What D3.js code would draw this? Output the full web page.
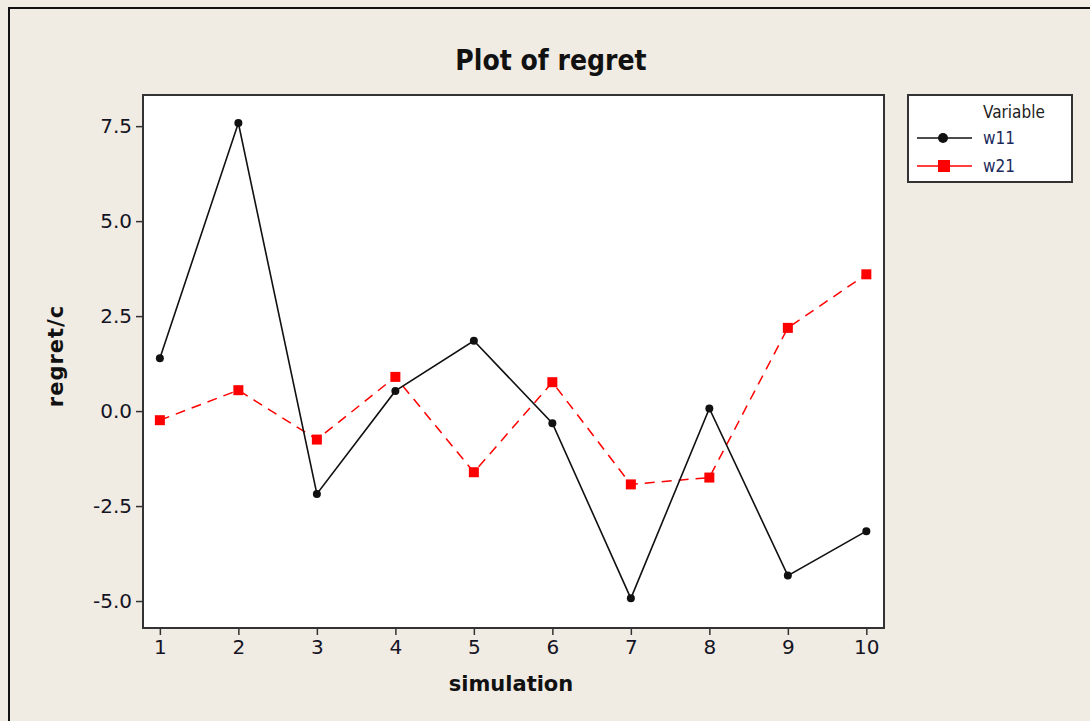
<!DOCTYPE html>
<html>
  <head>
    <meta charset="utf-8" />
    <title>Plot of regret</title>
    <script src="https://d3js.org/d3.v7.min.js"></script>
    <style>
      body { margin: 0; background: #f0ebe3; }
      text { font-family: "DejaVu Sans", sans-serif; }
    </style>
  </head>
  <body>
    <script>
      // data
      const simulations = [1, 2, 3, 4, 5, 6, 7, 8, 9, 10];
      const w11 = [1.39, 7.58, -2.18, 0.53, 1.85, -0.32, -4.93, 0.07, -4.33, -3.16];
      const w21 = [-0.24, 0.55, -0.75, 0.9, -1.61, 0.76, -1.93, -1.75, 2.19, 3.6];
      const yTicks = [-5.0, -2.5, 0.0, 2.5, 5.0, 7.5];
      const seriesNames = ["w11", "w21"];

      const W = 1090, H = 721;
      const plot = { left: 143, top: 95, right: 884, bottom: 628 };

      const svg = d3.select("body").append("svg")
        .attr("width", W).attr("height", H);

      svg.append("rect").attr("width", W).attr("height", H).attr("fill", "#f0ebe3");
      // outer frame (only top and left visible)
      svg.append("rect")
        .attr("x", 9).attr("y", 8).attr("width", W + 20).attr("height", H + 20)
        .attr("fill", "none").attr("stroke", "#111").attr("stroke-width", 2);

      const x = d3.scaleLinear().domain([0.785, 10.225]).range([plot.left, plot.right]);
      const y = d3.scaleLinear().domain([-5.71, 8.32]).range([plot.bottom, plot.top]);

      svg.append("rect")
        .attr("x", plot.left).attr("y", plot.top)
        .attr("width", plot.right - plot.left).attr("height", plot.bottom - plot.top)
        .attr("fill", "#fff").attr("stroke", "#333").attr("stroke-width", 2);

      // axes (hyphen minus like the original, not the unicode minus)
      const fmtY = d => d3.format(".1f")(d).replace("\u2212", "-");
      const xAxis = svg.append("g")
        .attr("transform", `translate(0,${plot.bottom + 1})`)
        .call(d3.axisBottom(x).tickValues(simulations).tickSize(6).tickPadding(5).tickFormat(d3.format("d")));
      const yAxis = svg.append("g")
        .attr("transform", `translate(${plot.left - 1},0)`)
        .call(d3.axisLeft(y).tickValues(yTicks).tickSize(6).tickPadding(4).tickFormat(fmtY));
      [xAxis, yAxis].forEach(g => {
        g.select(".domain").remove();
        g.selectAll(".tick line").attr("stroke", "#333").attr("stroke-width", 1.5);
        g.selectAll(".tick text")
          .attr("fill", "#141424")
          .style("font-size", "20px")
          .style("font-family", "'DejaVu Sans', sans-serif");
      });

      // lines
      const line = d3.line().x((d, i) => x(simulations[i])).y(d => y(d));

      svg.append("path").datum(w21)
        .attr("d", line).attr("fill", "none")
        .attr("stroke", "#ff0000").attr("stroke-width", 1.5)
        .attr("stroke-dasharray", "10,7");
      svg.selectAll(".sq").data(w21).join("rect")
        .attr("x", (d, i) => x(simulations[i]) - 5)
        .attr("y", d => y(d) - 5)
        .attr("width", 10).attr("height", 10)
        .attr("fill", "#ff0000");

      svg.append("path").datum(w11)
        .attr("d", line).attr("fill", "none")
        .attr("stroke", "#111").attr("stroke-width", 1.6);
      svg.selectAll(".dot").data(w11).join("circle")
        .attr("cx", (d, i) => x(simulations[i]))
        .attr("cy", d => y(d))
        .attr("r", 4).attr("fill", "#111");

      // title and axis labels
      svg.append("text")
        .attr("x", 551).attr("y", 70)
        .attr("text-anchor", "middle")
        .style("font-family", "'DejaVu Sans Condensed', 'DejaVu Sans', sans-serif")
        .style("font-weight", "bold").style("font-size", "28px")
        .attr("fill", "#111")
        .text("Plot of regret");

      svg.append("text")
        .attr("x", 511).attr("y", 691)
        .attr("text-anchor", "middle")
        .style("font-weight", "bold").style("font-size", "21px")
        .attr("fill", "#111")
        .text("simulation");

      svg.append("text")
        .attr("transform", `translate(63,356) rotate(-90)`)
        .attr("text-anchor", "middle")
        .style("font-weight", "bold").style("font-size", "21px")
        .style("letter-spacing", "1px")
        .attr("fill", "#111")
        .text("regret/c");

      // legend
      const legend = svg.append("g");
      legend.append("rect")
        .attr("x", 908).attr("y", 95).attr("width", 164).attr("height", 87)
        .attr("fill", "#fff").attr("stroke", "#333").attr("stroke-width", 2);
      legend.append("text")
        .attr("x", 983).attr("y", 118)
        .style("font-size", "17px").attr("fill", "#222")
        .style("font-family", "'DejaVu Sans Condensed', 'DejaVu Sans', sans-serif")
        .text("Variable");

      const rows = legend.selectAll(".row").data(seriesNames).join("g")
        .attr("transform", (d, i) => `translate(0,${138 + i * 28})`);
      rows.append("line")
        .attr("x1", 917).attr("x2", 972)
        .attr("stroke", (d, i) => i ? "#ff0000" : "#111")
        .attr("stroke-width", 1.5);
      rows.filter((d, i) => i === 0).append("circle")
        .attr("cx", 943).attr("r", 5).attr("fill", "#111");
      rows.filter((d, i) => i === 1).append("rect")
        .attr("x", 938).attr("y", -6).attr("width", 12).attr("height", 12).attr("fill", "#ff0000");
      rows.append("text")
        .attr("x", 983).attr("y", 6)
        .style("font-size", "17px").attr("fill", "#1a2a5a")
        .style("font-family", "'DejaVu Sans Condensed', 'DejaVu Sans', sans-serif")
        .text(d => d);
    </script>
  </body>
</html>
